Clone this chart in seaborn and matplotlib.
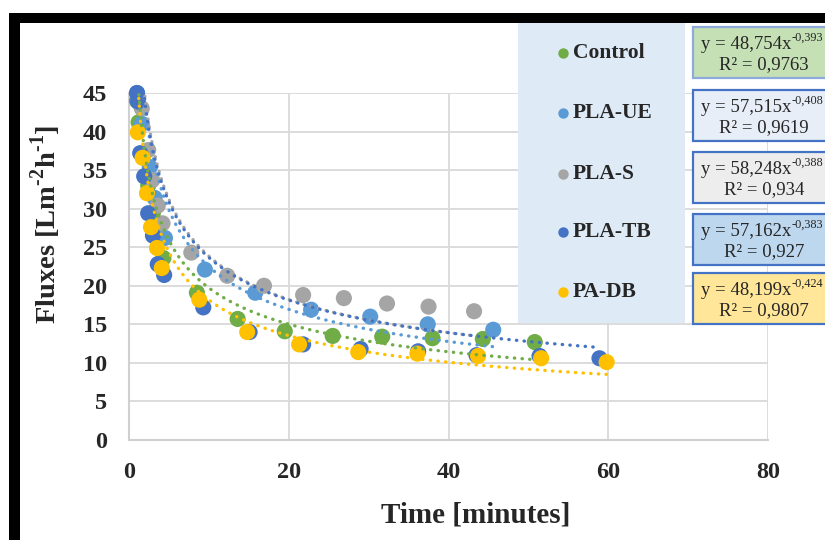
import numpy as np
import pandas as pd
import matplotlib
matplotlib.use('Agg')
import matplotlib.pyplot as plt
import seaborn as sns
from matplotlib.patches import Rectangle
from matplotlib.lines import Line2D

# ---------------- data ----------------
series_names = ['Control', 'PLA-UE', 'PLA-S', 'PLA-TB', 'PA-DB']
colors = ['#70AD47', '#5B9BD5', '#A5A5A5', '#4472C4', '#FFC000']

control_t = [1.0, 1.2, 1.8, 2.4, 3.0, 3.6, 4.3, 8.5, 13.6, 19.5, 25.5, 31.7, 38.0, 44.3, 50.8]
control_y = [44.0, 41.2, 37.0, 33.0, 29.5, 26.5, 23.6, 19.1, 15.7, 14.1, 13.5, 13.4, 13.2, 13.1, 12.7]

plaue_t = [1.0, 1.6, 2.6, 3.2, 4.5, 9.5, 15.8, 22.8, 30.2, 37.4, 45.6]
plaue_y = [45.0, 41.0, 35.4, 31.4, 26.2, 22.1, 19.1, 16.9, 16.0, 15.0, 14.3]

plas_t = [1.6, 2.4, 2.9, 3.6, 4.2, 7.8, 12.3, 16.9, 21.8, 26.9, 32.3, 37.5, 43.2]
plas_y = [43.0, 37.6, 33.7, 30.4, 28.1, 24.3, 21.3, 20.0, 18.8, 18.4, 17.7, 17.3, 16.7]

platb_t = [1.0, 1.1, 1.4, 1.9, 2.4, 3.0, 3.6, 4.4, 9.3, 15.1, 21.8, 29.0, 36.2, 43.5, 51.4, 58.9]
platb_y = [45.0, 43.9, 37.2, 34.2, 29.4, 26.5, 22.8, 21.4, 17.2, 14.0, 12.4, 11.8, 11.5, 11.0, 10.9, 10.6]

padb_t = [1.1, 1.7, 2.25, 2.75, 3.5, 4.1, 8.8, 14.8, 21.3, 28.7, 36.1, 43.7, 51.6, 59.8]
padb_y = [39.9, 36.6, 32.0, 27.6, 24.9, 22.3, 18.2, 14.0, 12.4, 11.4, 11.2, 10.9, 10.6, 10.1]

fit_a = [48.754, 57.515, 58.248, 57.162, 48.199]
fit_b = [-0.393, -0.408, -0.388, -0.383, -0.424]
fit_a_lbl = ['48,754', '57,515', '58,248', '57,162', '48,199']
fit_b_lbl = ['-0,393', '-0,408', '-0,388', '-0,383', '-0,424']
r2_lbl = ['0,9763', '0,9619', '0,934', '0,927', '0,9807']

x_ticks = [0, 20, 40, 60, 80]
y_ticks = [0, 5, 10, 15, 20, 25, 30, 35, 40, 45]

all_t = [control_t, plaue_t, plas_t, platb_t, padb_t]
all_y = [control_y, plaue_y, plas_y, platb_y, padb_y]

df = pd.concat([pd.DataFrame({'t': t, 'flux': y, 'series': n})
                for n, t, y in zip(series_names, all_t, all_y)], ignore_index=True)

# ---------------- style ----------------
sns.set_style('white')
plt.rcParams['font.family'] = ['Liberation Serif', 'DejaVu Serif']
plt.rcParams['mathtext.fontset'] = 'custom'
plt.rcParams['mathtext.rm'] = 'Liberation Serif'
plt.rcParams['mathtext.bf'] = 'Liberation Serif:bold'

W, H = 825, 540
fig = plt.figure(figsize=(W / 100, H / 100), dpi=100)
fx = lambda px: px / W
fy = lambda py: 1 - py / H

ax = fig.add_axes([fx(129), fy(440), (768 - 129) / W, (440 - 93) / H])

sns.scatterplot(data=df, x='t', y='flux', hue='series', hue_order=series_names,
                palette=colors, s=135, linewidth=0, legend=False, ax=ax,
                clip_on=False, zorder=3)

for t, a, b, c in zip(all_t, fit_a, fit_b, colors):
    ts = np.linspace(min(t), max(t), 400)
    ax.plot(ts, a * ts ** b, color=c, lw=2.4, linestyle=(0, (0.1, 2.2)),
            dash_capstyle='round', zorder=4)

ax.set_xlim(0, 80)
ax.set_ylim(0, 45)
ax.set_xticks(x_ticks)
ax.set_yticks(y_ticks)
ax.set_xticklabels([str(v) for v in x_ticks], fontsize=17.5, fontweight='bold')
ax.set_yticklabels([str(v) for v in y_ticks], fontsize=17.5, fontweight='bold')
ax.tick_params(axis='both', length=0)
ax.tick_params(axis='y', pad=16)
ax.tick_params(axis='x', pad=16)
ax.grid(True, color='#D9D9D9', lw=1.3)
ax.set_axisbelow(True)
for s in ['top', 'right']:
    ax.spines[s].set_visible(False)
for s in ['left', 'bottom']:
    ax.spines[s].set_color('#D0D0D0')
    ax.spines[s].set_linewidth(1.5)
ax.set_xlabel('')
ax.set_ylabel('')

fig.text(fx(476), fy(515), 'Time [minutes]', ha='center', va='center',
         fontsize=21, fontweight='bold')
fig.text(fx(46), fy(224),
         r'Fluxes [Lm$^{\mathbf{\text{-}2}}$h$^{\mathbf{\text{-}1}}$]',
         ha='center', va='center', rotation=90, fontsize=20.5, fontweight='bold')

# black frame
fig.add_artist(Rectangle((fx(9), 0), 11 / W, (H - 13) / H, transform=fig.transFigure,
                         facecolor='black', edgecolor='none', zorder=10))
fig.add_artist(Rectangle((fx(9), fy(23)), (W - 9) / W, 10 / H, transform=fig.transFigure,
                         facecolor='black', edgecolor='none', zorder=10))

# legend panel
fig.add_artist(Rectangle((fx(518), fy(323)), (685 - 518) / W, (323 - 23) / H,
                         transform=fig.transFigure, facecolor='#DEEAF6',
                         edgecolor='none', zorder=5))
rows = [53, 113, 174, 232, 292]
for n, c, r in zip(series_names, colors, rows):
    fig.add_artist(Line2D([fx(563)], [fy(r)], marker='o', markersize=7.5, color=c,
                          markeredgewidth=0, linestyle='none', transform=fig.transFigure,
                          zorder=6))
    fig.text(fx(573), fy(r), n, ha='left', va='center', fontsize=15.5,
             fontweight='bold', zorder=6)

# equation boxes
box_tops = [27, 90, 152, 214, 273]
box_fill = ['#C5E0B4', '#E8EEF8', '#EDEDED', '#BDD7EE', '#FFE699']
box_edge = ['#8EA9DB', '#4472C4', '#4472C4', '#4472C4', '#4472C4']
renderer = fig.canvas.get_renderer()
for i in range(5):
    top = box_tops[i]
    fig.add_artist(Rectangle((fx(693), fy(top + 51)), 150 / W, 51 / H,
                             transform=fig.transFigure, facecolor=box_fill[i],
                             edgecolor=box_edge[i], lw=1.6, zorder=6))
    main = fig.text(fx(701), fy(top + 22), 'y = %sx' % fit_a_lbl[i],
                    ha='left', va='baseline', fontsize=13.5, zorder=7)
    bb = main.get_window_extent(renderer)
    fig.text(bb.x1 / W + 0.5 / W, fy(top + 22 - 8), fit_b_lbl[i],
             ha='left', va='baseline', fontsize=8.8, zorder=7)
    fig.text(fx(764), fy(top + 38), 'R² = %s' % r2_lbl[i],
             ha='center', va='center', fontsize=13.5, zorder=7)

fig.savefig('out.png', dpi=100)
